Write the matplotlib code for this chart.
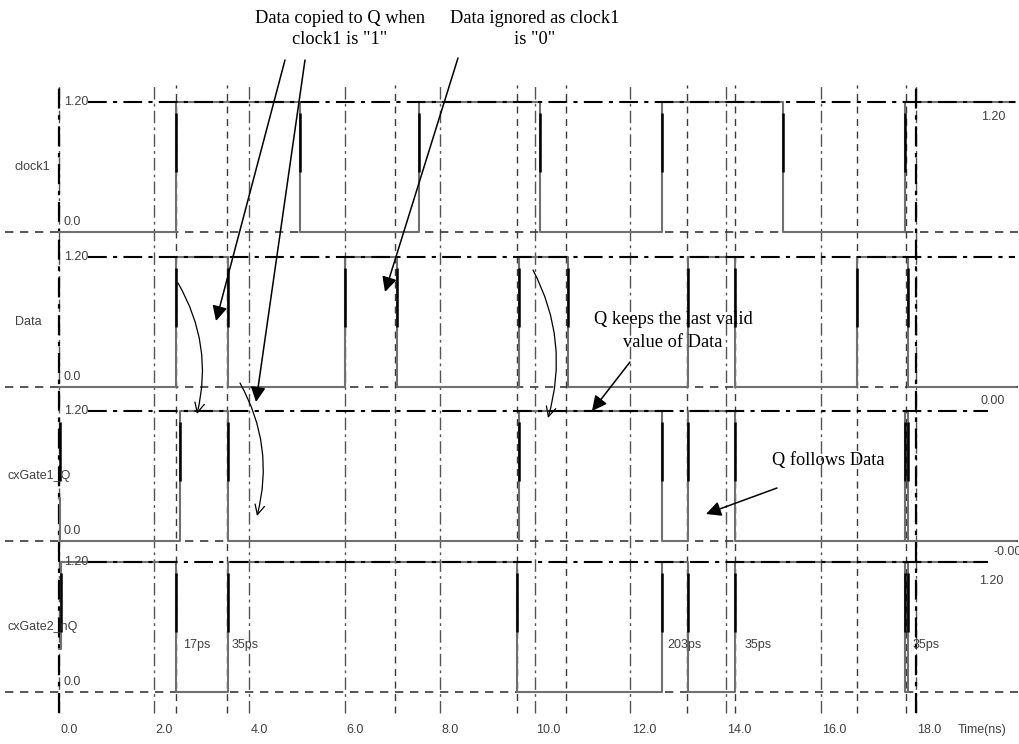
import matplotlib
matplotlib.use("Agg")
import matplotlib.pyplot as plt

# ---------------- data (times in ns, levels in V) ----------------
signal_names = ["clock1", "Data", "cxGate1_Q", "cxGate2_nQ"]

clock_t = [0.0, 2.46, 5.06, 7.56, 10.10, 12.67, 15.20, 17.77, 20.08]
clock_v = [0.0, 1.2, 0.0, 1.2, 0.0, 1.2, 0.0, 1.2, 1.2]

data_t = [0.0, 2.46, 3.55, 6.00, 7.10, 9.66, 10.69, 13.21, 14.20, 16.76, 17.83, 20.08]
data_v = [0.0, 1.2, 0.0, 1.2, 0.0, 1.2, 0.0, 1.2, 0.0, 1.2, 0.0, 0.0]

q_t = [0.0, 0.03, 2.54, 3.55, 9.66, 12.67, 13.21, 14.20, 17.77, 17.83, 20.08]
q_v = [0.40, 0.0, 1.2, 0.0, 1.2, 0.0, 1.2, 0.0, 1.2, 0.0, 0.0]

nq_t = [0.0, 0.05, 2.46, 3.55, 9.62, 12.67, 13.21, 14.20, 17.77, 17.83, 19.50]
nq_v = [0.40, 1.2, 0.0, 1.2, 0.0, 1.2, 0.0, 1.2, 0.0, 1.2, 1.2]

x_ticks = [0.0, 2.0, 4.0, 6.0, 8.0, 10.0, 12.0, 14.0, 16.0, 18.0]
x_tick_labels = ["0.0", "2.0", "4.0", "6.0", "8.0", "10.0", "12.0", "14.0", "16.0", "18.0"]
marker_times = [2.46, 3.53, 7.06, 9.62, 10.65, 13.19, 14.20, 16.76, 17.79]

delay_labels = ["17ps", "35ps", "203ps", "35ps", "35ps"]
delay_times = [2.60, 3.63, 12.78, 14.41, 17.92]

y_top_label = "1.20"
y_bot_label = "0.0"

# ---------------- layout ----------------
W, H = 1020, 744
PX_PER_NS = 47.61
X0_PX = 59
S = 130 / 1.2                      # px per volt
ROW_BASE_PX = [232, 387, 541, 692]  # pixel row of the 0 V level for each trace

def tx(px):
    return (px - X0_PX) / PX_PER_NS

def ty(py):
    return (H - py) / S

offsets = [ty(b) for b in ROW_BASE_PX]

fig = plt.figure(figsize=(W / 100, H / 100), dpi=100)
ax = fig.add_axes([0, 0, 1, 1])
ax.set_xlim(tx(0), tx(W))
ax.set_ylim(0, H / S)
ax.axis("off")

DASHDOT = (0, (9, 3, 2, 3))
DASHED = (0, (5, 4))
grid_col = "#3a3a3a"

# vertical grid (major ticks) and cursor lines
ax.vlines(x_ticks, ty(713), ty(85), colors="#555555", linestyles=[DASHDOT], lw=1.0, zorder=1)
ax.vlines([x_ticks[0], x_ticks[-1]], ty(713), ty(85), colors="black", linestyles=[DASHDOT], lw=1.6, zorder=1)
ax.vlines(marker_times, ty(713), ty(85), colors=grid_col, linestyles=[DASHED], lw=1.0, zorder=1)

# horizontal reference lines
ends_top = [tx(1015), tx(1015), tx(988), tx(988)]
for off, xe in zip(offsets, ends_top):
    ax.hlines(off, tx(5), tx(1018), colors=grid_col, linestyles=[DASHED], lw=1.2, zorder=1)
    ax.hlines(off + 1.2, tx(88), xe, colors="black", linestyles=[DASHDOT], lw=1.5, zorder=3)

# waveforms
traces = [(clock_t, clock_v), (data_t, data_v), (q_t, q_v), (nq_t, nq_v)]
for (t, v), off in zip(traces, offsets):
    ax.step(t, [off + vv for vv in v], where="post", color="#707070", lw=1.5, zorder=2)
    # darker partial overlay on the edges, as in the simulator rendering
    for i in range(1, len(t) - 1):
        if v[i] != v[i - 1]:
            ax.plot([t[i], t[i]], [off + 0.55, off + 1.1], color="black", lw=1.8,
                    zorder=2.5, solid_capstyle="butt")

# labels
lab_font = dict(family="Liberation Sans", fontsize=9, color="#404040")
name_x = [15, 15, 8, 8]
for name, off, nx in zip(signal_names, offsets, name_x):
    ax.text(tx(nx), off + 0.6, name, ha="left", va="center", **lab_font)
    ax.text(tx(64), off + 1.2, y_top_label, ha="left", va="center", **lab_font)
    ax.text(tx(64), off + 0.04, y_bot_label, ha="left", va="bottom", **lab_font)

for xt, lab in zip(x_ticks, x_tick_labels):
    ax.text(xt + 0.03, ty(730), lab, ha="left", va="center", **lab_font)
ax.text(tx(958), ty(730), "Time(ns)", ha="left", va="center", **lab_font)

# right-side value labels
ax.text(tx(1005), ty(117), "1.20", ha="right", va="center", **lab_font)
ax.text(tx(1005), ty(401), "0.00", ha="right", va="center", **lab_font)
ax.text(tx(1022), ty(552), "-0.00", ha="right", va="center", **lab_font)
ax.text(tx(1003), ty(581), "1.20", ha="right", va="center", **lab_font)

for dt, dl in zip(delay_times, delay_labels):
    ax.text(dt, ty(645), dl, ha="left", va="center", **lab_font)

# annotations
ann_font = dict(family="Liberation Serif", fontsize=13.2, color="black")

def fp(x, y):
    return (x, H - y)

ax.annotate("Data copied to Q when\nclock1 is \"1\"", xy=fp(340, 29), xycoords="figure pixels",
            ha="center", va="center", linespacing=1.35, **ann_font)
ax.annotate("Data ignored as clock1\nis \"0\"", xy=fp(535, 29), xycoords="figure pixels",
            ha="center", va="center", linespacing=1.35, **ann_font)
ax.annotate("Q keeps the last valid\nvalue of Data", xy=fp(673, 331), xycoords="figure pixels",
            ha="center", va="center", linespacing=1.5, **ann_font)
ax.annotate("Q follows Data", xy=fp(828, 460), xycoords="figure pixels",
            ha="center", va="center", **ann_font)

solid = dict(arrowstyle="-|>,head_length=0.9,head_width=0.45", color="black", lw=1.1,
             shrinkA=0, shrinkB=0)
for (x1, y1), (x2, y2) in [((285, 60), (216, 321)), ((305, 60), (256, 402)),
                           ((458, 58), (385, 292)), ((630, 362), (592, 411)),
                           ((777, 488), (706, 514))]:
    ax.annotate("", xy=fp(x2, y2), xycoords="figure pixels", xytext=fp(x1, y1),
                textcoords="figure pixels", arrowprops=solid)

curved = dict(arrowstyle="->,head_length=0.7,head_width=0.35", color="black", lw=0.9,
              shrinkA=0, shrinkB=0, connectionstyle="arc3,rad=-0.2")
for (x1, y1), (x2, y2) in [((178, 283), (197, 414)), ((240, 383), (257, 516)),
                           ((533, 270), (548, 418))]:
    ax.annotate("", xy=fp(x2, y2), xycoords="figure pixels", xytext=fp(x1, y1),
                textcoords="figure pixels", arrowprops=curved)

fig.savefig("out.png", dpi=100)
